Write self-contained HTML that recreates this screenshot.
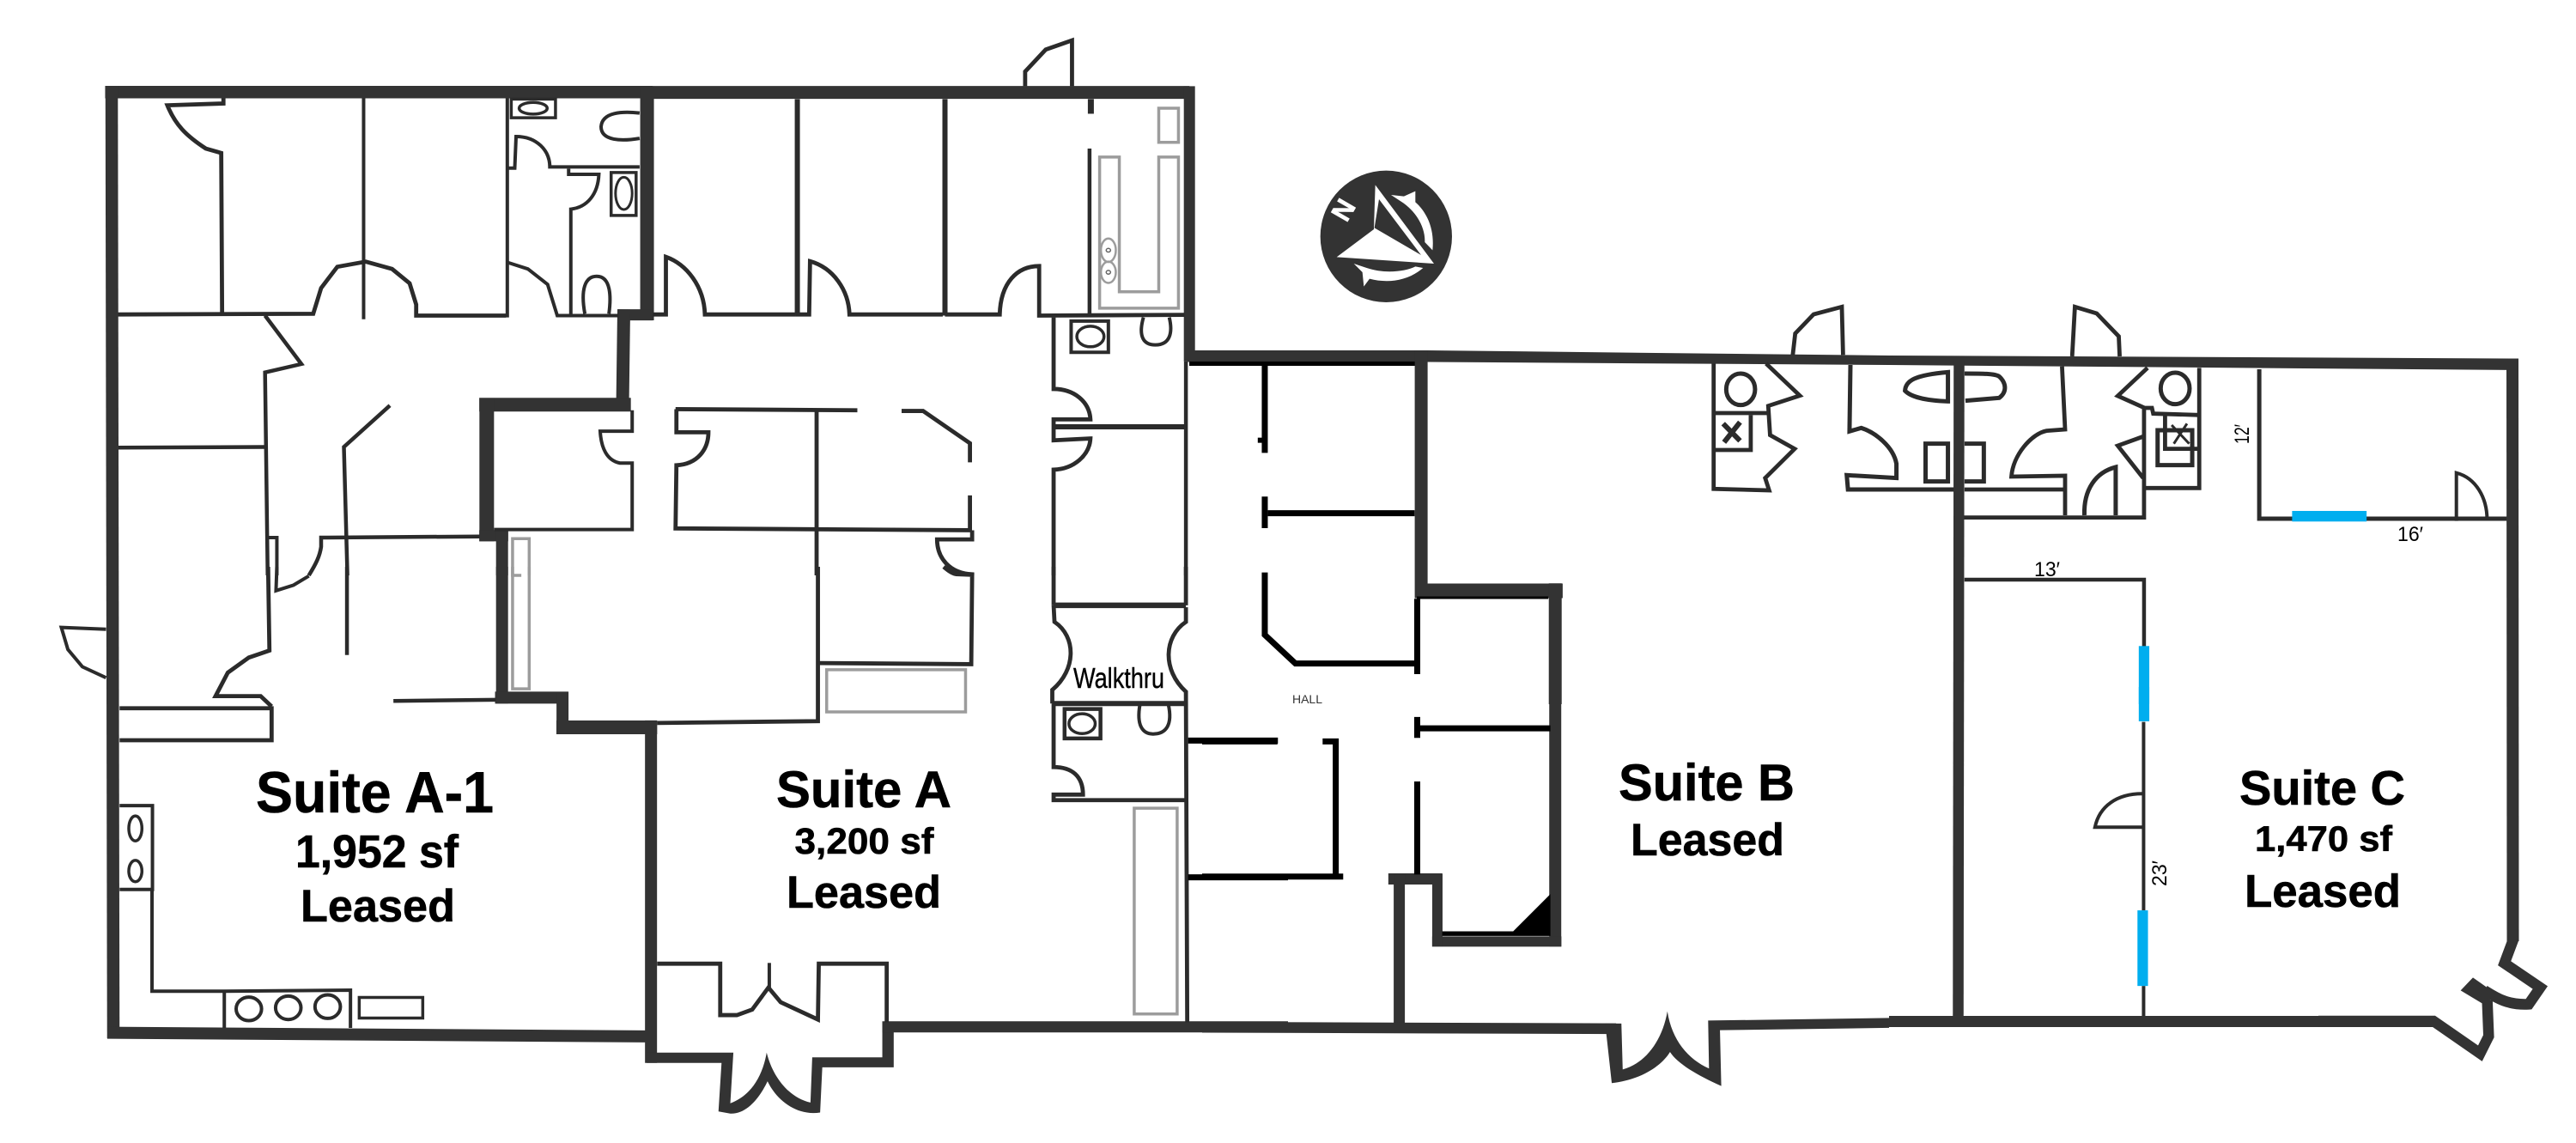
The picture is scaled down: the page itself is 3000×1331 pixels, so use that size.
<!DOCTYPE html>
<html><head><meta charset="utf-8"><style>
html,body{margin:0;padding:0;background:#fff}
svg{display:block}
svg *{vector-effect:non-scaling-stroke}
g{fill:none;stroke:#2b2b2b;stroke-width:4.8;stroke-linejoin:miter;stroke-miterlimit:8}
.w{stroke:#333;stroke-width:14}
.b{stroke:#000;stroke-width:7}
.gr{stroke:#9c9c9c;stroke-width:3.5}
.f{fill:#333;stroke:none}
.k{fill:#000;stroke:none}
.c{fill:#00aeef;stroke:none}
.wh{fill:#fff;stroke:none}
text{font-family:"Liberation Sans",sans-serif;stroke:none;fill:#000}
.t{font-weight:bold;stroke:#000;stroke-width:.6}
</style></head><body>
<svg width="3000" height="1331" viewBox="0 0 3000 1331" xmlns="http://www.w3.org/2000/svg">
<rect width="3000" height="1331" fill="#fff"/>

<!-- Z1 top-left -->
<g transform="translate(0,0) scale(.5102,.4273)">
<path class="w" d="M240,251 L1490,251" style="stroke-width:14.5"/>
<path class="w" d="M1477,235 L1477,873" style="stroke-width:16"/>
<path class="w" d="M1410,858 L1490,858" style="stroke-width:13"/>
<path class="w" d="M1424,843 L1421,1110" style="stroke-width:15"/>
<path class="w" d="M1094,1103 L1440,1103" style="stroke-width:16"/>
<path class="w" d="M1111,1085 L1111,1475" style="stroke-width:17"/>
<path class="w" d="M1094,1460 L1160,1460" style="stroke-width:13"/>
<path class="w" d="M1146,1445 L1146,1568"/>
<path d="M510,268 L510,282 L382,287 C400,340 425,370 470,405 L505,417 L507,855"/>
<path d="M268,857 L715,855 L733,785 L770,727 L835,713 L895,733 L935,772 L950,830 L950,860 L1155,860"/>
<path d="M830,268 L830,870" style="stroke-width:4"/>
<path d="M1158,268 L1158,865" style="stroke-width:4"/>
<path d="M1158,715 L1205,733 L1250,775 L1272,860 L1412,860" style="stroke-width:4"/>
<path d="M605,860 L688,992 L605,1015 L611,1568" style="stroke-width:4.5"/>
<path d="M270,1220 L605,1218" style="stroke-width:4.5"/>
<path d="M890,1105 L785,1218 L793,1568" style="stroke-width:4.5"/>
<path d="M612,1465 L632,1465 L632,1568" style="stroke-width:4"/>
<path d="M705,1568 C722,1535 730,1515 733,1490 L733,1465 L1095,1462" style="stroke-width:4.5"/>
<rect x="1167" y="270" width="101" height="51" style="stroke-width:3.5"/>
<ellipse cx="1217" cy="295" rx="32" ry="16" style="stroke-width:3.5"/>
<path d="M1460,308 C1420,303 1375,305 1372,345 C1372,385 1420,385 1460,377" style="stroke-width:4"/>
<path d="M1160,458 L1175,458 L1178,372 C1225,372 1255,410 1255,455 L1460,455" style="stroke-width:4"/>
<path d="M1298,460 L1298,475 L1367,475 C1365,530 1340,565 1303,570 L1303,860" style="stroke-width:4"/>
<rect x="1395" y="470" width="57" height="117" style="stroke-width:3.5"/>
<ellipse cx="1424" cy="527" rx="19" ry="44" style="stroke-width:3"/>
<path d="M1335,855 C1325,790 1335,753 1362,753 C1395,753 1395,810 1390,855" style="stroke-width:4"/>
<path d="M1128,1443 L1443,1443 L1443,1262 L1415,1262 C1385,1255 1372,1220 1370,1175 L1443,1175 L1443,1118" style="stroke-width:4"/>
<path class="gr" d="M1190,1568 L1170,1568 L1170,1468 L1208,1468 L1208,1568"/>
</g>

<!-- Left wall -->
<path d="M130,100 L132,1209" fill="none" stroke="#333" stroke-width="14.5"/>

<!-- Z2 -->
<g transform="translate(0,660) scale(.5102,.42793)">
<path d="M245,1268 L1478,1278" class="w" style="stroke-width:14"/>
<path class="w" d="M1146,0 L1146,372"/>
<path class="w" d="M1130,356 L1297,356"/>
<path class="w" d="M1284,340 L1284,455"/>
<path class="w" d="M1270,437 L1500,437" style="stroke-width:16"/>
<path class="w" d="M1486,418 L1486,1350"/>
<path d="M612,0 L615,228 L568,247 L520,288 L492,352 L595,352 L620,380"/>
<path d="M273,385 L620,385 L620,472 L273,472"/>
<path d="M242,170 L140,165 L155,225 L188,272 L242,302" style="stroke-width:4"/>
<path d="M792,0 L792,240" style="stroke-width:4.5"/>
<path d="M632,0 L630,65 L670,50 L705,25" style="stroke-width:4"/>
<path d="M898,365 L1132,362" style="stroke-width:4.5"/>
<path d="M273,650 L348,650 L348,878 L273,878" style="stroke-width:4"/>
<ellipse cx="309" cy="712" rx="15" ry="34" style="stroke-width:3.5"/>
<ellipse cx="309" cy="828" rx="15" ry="29" style="stroke-width:3.5"/>
<path d="M347,878 L347,1155 L512,1155 L800,1152 L800,1255 M512,1155 L512,1255" style="stroke-width:4"/>
<ellipse cx="568" cy="1203" rx="29" ry="32" style="stroke-width:4"/>
<ellipse cx="658" cy="1200" rx="29" ry="32" style="stroke-width:4"/>
<ellipse cx="748" cy="1197" rx="29" ry="32" style="stroke-width:4"/>
<rect x="820" y="1172" width="145" height="56" style="stroke-width:3.5"/>
<path class="gr" d="M1170,0 L1170,332 L1208,332 L1208,0"/>
</g>

<!-- Z3 -->
<g transform="translate(700,0) scale(.5102,.4273)">
<path class="w" d="M118,252 L1343,252" style="stroke-width:15"/>
<path class="w" d="M1343,235 L1343,985" style="stroke-width:13"/>
<path d="M968,235 L968,195 L1015,135 L1075,110 L1075,235"/>
<path d="M118,857 L148,857 L148,700 C195,720 235,780 237,857 L443,857"/>
<path d="M448,270 L448,857" style="stroke-width:6"/>
<path d="M443,857 L475,857 L477,712 C530,730 565,790 567,857 L780,857"/>
<path d="M785,270 L785,860" style="stroke-width:6"/>
<path d="M785,857 L910,857 C912,770 950,725 1000,725 L1000,860 L1332,858"/>
<path d="M1118,270 L1118,310" style="stroke-width:7"/>
<path d="M1115,405 L1115,857" style="stroke-width:4.5"/>
<rect class="gr" x="1273" y="295" width="45" height="93"/>
<path class="gr" d="M1138,428 L1183,428 L1183,795 L1273,795 L1273,428 L1318,428 L1318,840 L1138,840 Z"/>
<ellipse class="gr" cx="1158" cy="682" rx="17" ry="32" style="stroke-width:2.5"/>
<ellipse class="gr" cx="1158" cy="742" rx="17" ry="29" style="stroke-width:2.5"/>
<ellipse class="gr" cx="1158" cy="682" rx="5" ry="5" style="stroke-width:1.5;stroke:#666"/>
<ellipse class="gr" cx="1158" cy="742" rx="5" ry="5" style="stroke-width:1.5;stroke:#666"/>
<path d="M1033,865 L1033,1060 C1080,1060 1115,1095 1117,1143 L1033,1143 L1033,1200 L1117,1195 C1115,1240 1080,1278 1033,1280 L1033,1568"/>
<path d="M1033,1163 L1332,1163" style="stroke-width:6"/>
<rect x="1073" y="875" width="85" height="85" style="stroke-width:4"/>
<ellipse cx="1117" cy="917" rx="31" ry="28" style="stroke-width:3.5"/>
<path d="M1238,865 C1225,920 1240,940 1265,940 C1300,940 1305,905 1297,865" style="stroke-width:4"/>
<path d="M170,1115 L585,1118"/>
<path d="M686,1120 L735,1120 L842,1208 L842,1260"/>
<path d="M842,1350 L842,1445 L170,1440 L172,1268 C220,1265 245,1225 245,1178 L172,1178 L172,1115"/>
<path d="M492,1115 L492,1568"/>
<path d="M847,1445 L847,1470 L767,1470 C767,1520 795,1562 847,1565 L847,1568"/>
<path d="M1335,985 L1335,1568" style="stroke-width:4.5"/>
</g>

<!-- Z4 -->
<g transform="translate(700,660) scale(.5102,.42793)">
<path class="f" d="M104,1322 L302,1322 L295,1460 C340,1440 368,1390 378,1322 C392,1390 430,1445 478,1458 L482,1335 L642,1335 L642,1238 L668,1238 L668,1362 L505,1362 L500,1485 C445,1495 400,1450 380,1400 C360,1450 330,1490 295,1488 L268,1482 L275,1350 L104,1350 Z"/>
<path class="w" d="M642,1252 L1568,1252" style="stroke-width:13"/>
<path d="M128,1080 L272,1080 L272,1220 L310,1220 L345,1205 L382,1145 L410,1185 L495,1232 L497,1080 L652,1080 L652,1240"/>
<path d="M384,1078 L384,1145" style="stroke-width:4"/>
<path d="M495,0 L495,420 L128,425"/>
<path d="M495,262 L845,265 L847,22 L810,20 C800,18 790,8 782,0"/>
<rect class="gr" x="515" y="280" width="317" height="115"/>
<path d="M1033,0 L1033,105"/>
<path d="M1335,0 L1335,105"/>
<path d="M1033,105 L1335,105" style="stroke-width:6.5"/>
<path d="M1033,105 L1035,150 C1085,190 1085,280 1030,335 L1030,372"/>
<path d="M1335,110 L1335,150 C1285,190 1280,280 1335,340 L1338,1240"/>
<path d="M1030,372 L1335,372" style="stroke-width:6"/>
<path d="M1033,372 L1033,545 C1075,545 1100,570 1100,620 L1033,620 L1033,635 L1335,635"/>
<rect x="1058" y="387" width="82" height="80" style="stroke-width:4.5"/>
<ellipse cx="1098" cy="427" rx="30" ry="27" style="stroke-width:3.5"/>
<path d="M1230,375 C1222,430 1235,455 1260,455 C1290,455 1305,430 1295,375" style="stroke-width:4"/>
<rect class="gr" x="1217" y="657" width="98" height="560"/>
<path class="b" d="M1340,473 L1545,473"/>
<path class="b" d="M1340,845 L1568,845"/>
</g>

<!-- upper wall right -->
<polygon points="1383,408 1663,408 2200,414 2933,417.5 2933,431 2200,425 1663,421.5 1383,421.5" fill="#333"/>
<rect x="1385" y="421" width="265" height="5" fill="#000"/>

<!-- Z5 -->
<g transform="translate(1400,320) scale(.5102,.3333)">
<path class="w" d="M500,265 L500,1130" style="stroke-width:15"/>
<path class="w" d="M490,1104 L823,1104" style="stroke-width:17"/>
<path class="w" d="M806,1078 L806,1500" style="stroke-width:15"/>
<path class="b" d="M490,1128 L790,1128" style="stroke-width:3"/>
<path class="b" d="M491,1132 L491,1395"/>
<path class="b" d="M143,315 L143,622"/>
<path class="b" d="M127,578 L143,578" style="stroke-width:6"/>
<path class="b" d="M143,775 L143,885"/>
<path class="b" d="M150,833 L485,833"/>
<path class="b" d="M143,1040 L143,1258 L213,1358 L485,1358"/>
</g>

<!-- Z7 -->
<g transform="translate(1400,800) scale(.5102,.33865)">
<path class="w" d="M806,0 L806,892"/>
<path class="w" d="M525,875 L820,875" style="stroke-width:12"/>
<path class="w" d="M537,642 L537,890" style="stroke-width:12"/>
<path class="w" d="M425,660 L548,660" style="stroke-width:13"/>
<path class="w" d="M450,645 L450,1190" style="stroke-width:13"/>
<path class="w" d="M0,1170 L945,1175" style="stroke-width:12.5"/>
<path class="k" d="M710,840 L795,712 L795,856 L548,856 L548,840 Z"/>
<path class="f" d="M920,1157 L957,1157 L960,1315 C1010,1295 1050,1220 1062,1115 C1072,1215 1110,1280 1157,1312 L1155,1147 L1568,1138 L1568,1172 L1182,1180 L1185,1372 C1130,1335 1085,1295 1068,1255 C1050,1300 1005,1350 935,1362 Z"/>
<path class="b" d="M491,103 L491,175"/>
<path class="b" d="M497,142 L795,142"/>
<path class="b" d="M0,187 L172,187"/>
<path class="b" d="M275,187 L305,187 L305,650"/>
<path class="b" d="M0,652 L322,652"/>
<path class="b" d="M491,325 L491,645"/>
</g>

<!-- Z10 bathrooms -->
<g transform="translate(1980,340) scale(.35714,.3333)">
<path d="M215,250 L325,362 L222,398 L228,500 L308,548 L212,650 L225,693 L44,688 L44,250"/>
<path d="M44,423 L222,423"/>
<path d="M50,552 L165,552 L165,430"/>
<ellipse cx="132" cy="340" rx="47" ry="55" style="stroke-width:5"/>
<path d="M75,460 L130,520 M130,455 L78,525" style="stroke-width:6"/>
<path d="M302,220 L310,145 L370,78 L462,52 L466,220"/>
<path d="M490,255 L487,487 L525,475 C570,490 630,540 640,600 L640,650 L478,640 L482,690 L830,690" style="stroke-width:5"/>
<path d="M808,280 L808,382 C750,380 690,370 668,345 C670,310 700,290 808,280 Z" style="stroke-width:5"/>
<rect x="735" y="530" width="73" height="132" style="stroke-width:5"/>
<path d="M862,285 C920,285 960,285 975,295 C1000,320 1000,350 975,370 L865,380" style="stroke-width:5"/>
<path d="M862,530 L925,530 L925,662 L862,662" style="stroke-width:5"/>
<path d="M862,690 L1185,690"/>
<path d="M1180,260 L1190,480 L1130,485 C1080,495 1020,570 1015,645 L1190,642 L1190,780"/>
<path d="M860,788 L1450,788"/>
<path d="M1253,780 C1250,690 1290,630 1355,612 L1355,780" style="stroke-width:5"/>
<path d="M1213,225 L1222,52 L1293,75 L1365,155 L1368,225"/>
</g>

<path d="M2281.5,420 L2280.5,1195" fill="none" stroke="#333" stroke-width="12.5"/>
<path d="M2926,420 L2926.5,1096" fill="none" stroke="#333" stroke-width="14"/>

<!-- Z6 -->
<g transform="translate(2200,320) scale(.5102,.3333)">
<path d="M590,325 L522,423 L583,465 L600,465 L603,485 L708,490"/>
<path d="M708,325 L708,745 L585,745"/>
<path d="M582,465 L582,855"/>
<path d="M580,565 L522,597 L580,710"/>
<ellipse cx="653" cy="397" rx="33" ry="55" style="stroke-width:5"/>
<rect x="613" y="543" width="79" height="122" style="stroke-width:5"/>
<path d="M630,490 L630,608 L708,608"/>
<path d="M645,525 L685,590 M680,520 L650,590" style="stroke-width:3"/>
<path d="M845,330 L845,852 L1410,852" style="stroke-width:5"/>
<rect class="c" x="920" y="825" width="170" height="37"/>
<path d="M1295,860 L1295,692 C1340,710 1365,780 1365,855" style="stroke-width:4"/>
<path d="M172,1065 L582,1065 L582,1500" style="stroke-width:4.5"/>
<rect class="c" x="570" y="1297" width="24" height="203"/>
</g>

<!-- Z8 -->
<g transform="translate(2200,800) scale(.5102,.33865)">
<path d="M581,120 L581,768 M581,1028 L581,1140" style="stroke-width:4"/>
<rect class="c" x="570" y="0" width="24" height="118"/>
<rect class="c" x="567" y="768" width="24" height="260"/>
<path d="M578,367 C520,367 480,410 470,482 L578,482" style="stroke-width:4"/>
<path class="w" d="M0,1150 L1245,1150" style="stroke-width:13"/>
</g>

<!-- Z11 right door -->
<g transform="translate(2700,1050) scale(.3333)">
<path class="w" d="M0,417 L402,417 L565,530 L595,470 L590,345" style="stroke-width:12.5"/>
<path class="w" d="M580,310 C620,335 660,362 735,358 L775,300 L650,215 L680,135 L680,0" style="stroke-width:12.5"/>
<polygon class="f" points="540,265 497,310 580,360 625,325"/>
</g>

<!-- Compass -->
<g transform="translate(1520,182) scale(.3333)">
<circle cx="283" cy="280" r="230" class="f"/>
<polygon class="wh" points="110,352 240,255 245,100 450,375"/>
<polygon class="f" points="258,150 242,250 405,345"/>
<path class="wh" d="M300,135 L345,140 L385,122 L385,160 C430,200 452,260 445,328 L418,300 C420,245 385,190 335,158 Z"/>
<path class="wh" d="M170,375 L215,390 C280,412 350,402 385,385 L412,390 C360,435 290,445 225,428 L205,455 L200,405 Z"/>
</g>
<text class="t" transform="translate(1574,250) rotate(-60)" font-size="32" style="fill:#fff;stroke:#fff" text-anchor="middle">N</text>

<!-- Text -->
<text class="t" x="298" y="946" font-size="68" textLength="277" lengthAdjust="spacingAndGlyphs">Suite A-1</text>
<text class="t" x="344" y="1010" font-size="54" textLength="190" lengthAdjust="spacingAndGlyphs">1,952 sf</text>
<text class="t" x="350" y="1073" font-size="53" textLength="180" lengthAdjust="spacingAndGlyphs">Leased</text>
<text class="t" x="904" y="940" font-size="60" textLength="204" lengthAdjust="spacingAndGlyphs">Suite A</text>
<text class="t" x="925.5" y="994" font-size="43" textLength="162" lengthAdjust="spacingAndGlyphs">3,200 sf</text>
<text class="t" x="916" y="1057" font-size="53" textLength="180" lengthAdjust="spacingAndGlyphs">Leased</text>
<text x="1250" y="801" font-size="33" textLength="106" lengthAdjust="spacingAndGlyphs" style="stroke:#000;stroke-width:.4">Walkthru</text>
<text class="t" x="1885" y="932" font-size="60" textLength="205" lengthAdjust="spacingAndGlyphs">Suite B</text>
<text class="t" x="1899" y="996" font-size="53" textLength="179" lengthAdjust="spacingAndGlyphs">Leased</text>
<text x="1505" y="819" font-size="14" textLength="35" lengthAdjust="spacingAndGlyphs" style="fill:#333">HALL</text>
<text class="t" x="2608" y="937" font-size="57" textLength="193" lengthAdjust="spacingAndGlyphs">Suite C</text>
<text class="t" x="2626" y="991" font-size="42" textLength="160" lengthAdjust="spacingAndGlyphs">1,470 sf</text>
<text class="t" x="2614" y="1056" font-size="54" textLength="182" lengthAdjust="spacingAndGlyphs">Leased</text>
<text x="2792" y="630" font-size="24" textLength="30" lengthAdjust="spacingAndGlyphs">16′</text>
<text x="2369" y="671" font-size="24" textLength="30" lengthAdjust="spacingAndGlyphs">13′</text>
<text transform="translate(2619,517) rotate(-90)" font-size="24" textLength="23" lengthAdjust="spacingAndGlyphs">12′</text>
<text transform="translate(2523,1032) rotate(-90)" font-size="24" textLength="30" lengthAdjust="spacingAndGlyphs">23′</text>
</svg>
</body></html>
